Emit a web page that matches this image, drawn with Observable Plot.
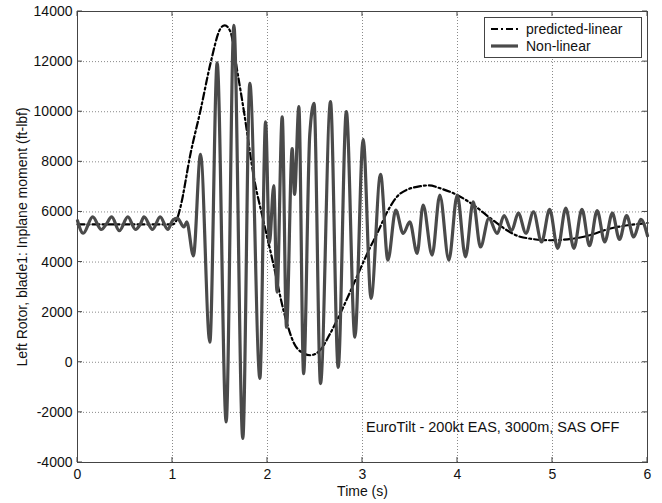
<!DOCTYPE html>
<html>
<head>
<meta charset="utf-8">
<script src="https://cdn.jsdelivr.net/npm/d3@7"></script>
<script src="https://cdn.jsdelivr.net/npm/@observablehq/plot@0.6"></script>
<style>
  html, body { margin: 0; padding: 0; background: #fff; }
  #chart { width: 662px; height: 503px; }
</style>
</head>
<body>
<div id="chart"></div>
<script>
// ---- data ----
const xTicks = [0, 1, 2, 3, 4, 5, 6];
const yTicks = [-4000, -2000, 0, 2000, 4000, 6000, 8000, 10000, 12000, 14000];

// Non-linear response: time (s) of each turning point and its value (ft-lbf)
const nonlinearT = [0, 0.06, 0.16, 0.25, 0.30, 0.36, 0.44, 0.53, 0.61, 0.66, 0.70, 0.79, 0.87, 0.95, 1.00,
  1.05, 1.12, 1.15, 1.22, 1.295, 1.393, 1.47, 1.565, 1.646, 1.74, 1.814, 1.92, 1.98, 2.02, 2.066, 2.10,
  2.155, 2.20, 2.26, 2.285, 2.33, 2.38, 2.445, 2.49, 2.558, 2.663, 2.744, 2.83, 2.92, 3.007, 3.09, 3.19,
  3.267, 3.35, 3.428, 3.498, 3.575, 3.638, 3.733, 3.814, 3.909, 3.997, 4.084, 4.165, 4.242, 4.33, 4.418,
  4.49, 4.57, 4.64, 4.72, 4.80, 4.885, 4.97, 5.055, 5.14, 5.225, 5.31, 5.39, 5.47, 5.55, 5.63, 5.705,
  5.78, 5.855, 5.93, 6.0];
const nonlinearV = [5650, 5150, 5800, 5300, 5500, 5800, 5250, 5800, 5300, 5500, 5800, 5300, 5800, 5300, 5650,
  5750, 5400, 5600, 4250, 8300, 800, 11950, -2380, 13450, -3040, 11130, -640, 9600, 4750, 7050, 2800,
  9800, 1400, 8530, 6700, 10200, -450, 9100, 10330, -850, 10400, -200, 10000, 1000, 8900, 2550, 7500,
  4080, 6070, 5140, 5600, 4350, 6270, 4280, 6670, 4080, 6670, 4210, 6400, 4600, 5740, 5140,
  5850, 5250, 5950, 5150, 6000, 4800, 6100, 4550, 6150, 4550, 6100, 4650, 6050, 4800, 5950, 4900,
  5850, 5000, 5700, 5050];

// Predicted-linear response
const predictedT = [0, 1.0, 1.05, 1.084, 1.19, 1.295, 1.40, 1.505, 1.55, 1.61, 1.68, 1.75, 1.856, 1.96,
  2.066, 2.17, 2.28, 2.385, 2.45, 2.555, 2.66, 2.766, 2.91, 3.05, 3.17, 3.26, 3.40, 3.61, 3.70, 3.82,
  4.0, 4.17, 4.35, 4.52, 4.66, 4.98, 5.33, 5.61, 6.0];
const predictedV = [5500, 5500, 5740, 6200, 8330, 10060, 11930, 13320, 13450, 13190, 11660, 10060, 7400, 5600,
  3850, 2050, 750, 350, 280, 490, 1150, 1950, 3150, 4340, 5270, 6000, 6740, 7030, 7060, 6940,
  6670, 6270, 5740, 5270, 5010, 4870, 5010, 5340, 5560];

const seriesNames = ["predicted-linear", "Non-linear"];
const xLabel = "Time (s)";
const yLabel = "Left Rotor, blade1: Inplane moment (ft-lbf)";
const noteText = "EuroTilt - 200kt EAS, 3000m, SAS OFF";
const noteAt = {t: 4.37, v: -2600};

// ---- build tables ----
const nonlinear = nonlinearT.map((t, i) => ({t, v: nonlinearV[i]}));
const predicted = predictedT.map((t, i) => ({t, v: predictedV[i]}));

const FONT = "'Liberation Sans', Arial, Helvetica, sans-serif";
const DASH = "7,3,2,3";
const NL_COLOR = "#4a4a4a";

const plot = Plot.plot({
  width: 662,
  height: 503,
  marginLeft: 77,
  marginRight: 15,
  marginTop: 11,
  marginBottom: 41,
  style: {fontFamily: FONT, fontSize: "14px", color: "#111", background: "#fff", overflow: "visible"},
  x: {domain: [0, 6], label: null},
  y: {domain: [-4000, 14000], label: null},
  marks: [
    Plot.gridX(xTicks, {stroke: "#8a8a8a", strokeOpacity: 1, strokeDasharray: "1,2"}),
    Plot.gridY(yTicks, {stroke: "#8a8a8a", strokeOpacity: 1, strokeDasharray: "1,2"}),
    Plot.axisX(xTicks, {tickSize: 0, tickPadding: 7, fontSize: 14, tickFormat: d => String(d), label: null}),
    Plot.axisY(yTicks, {tickSize: 0, tickPadding: 5, fontSize: 14, tickFormat: d => String(d), label: null}),
    Plot.line(predicted, {x: "t", y: "v", stroke: "#000", strokeWidth: 2.2, strokeDasharray: DASH, curve: "monotone-x"}),
    Plot.line(nonlinear, {x: "t", y: "v", stroke: NL_COLOR, strokeWidth: 3.2, curve: "monotone-x"}),
    Plot.frame({stroke: "#444", strokeWidth: 1}),
    Plot.text([noteText], {x: () => noteAt.t, y: () => noteAt.v, text: d => d, fontSize: 14.5, fill: "#111"}),
    Plot.text([xLabel], {frameAnchor: "bottom", dy: 33.5, text: d => d, fontSize: 14, fill: "#111", textAnchor: "middle"}),
    Plot.text([yLabel], {frameAnchor: "left", dx: -55, rotate: -90, text: d => d, fontSize: 14, fill: "#111", textAnchor: "middle"})
  ]
});

document.getElementById("chart").appendChild(plot);

// ---- inward ticks on all four sides (MATLAB style) ----
const sx = plot.scale("x"), sy = plot.scale("y");
const svg = d3.select(plot);
const L = 77, R = 662 - 15, T = 11, B = 503 - 41, TL = 5;
const tg = svg.append("g").attr("stroke", "#444").attr("stroke-width", 1);
xTicks.forEach(d => {
  const px = sx.apply(d);
  tg.append("line").attr("x1", px).attr("x2", px).attr("y1", B).attr("y2", B - TL);
  tg.append("line").attr("x1", px).attr("x2", px).attr("y1", T).attr("y2", T + TL);
});
yTicks.forEach(d => {
  const py = sy.apply(d);
  tg.append("line").attr("y1", py).attr("y2", py).attr("x1", L).attr("x2", L + TL);
  tg.append("line").attr("y1", py).attr("y2", py).attr("x1", R).attr("x2", R - TL);
});

// ---- legend box ----
const lg = svg.append("g").attr("font-family", FONT).attr("font-size", 14).attr("fill", "#111")
  .attr("text-anchor", "start");
lg.append("rect").attr("x", 484.5).attr("y", 17.5).attr("width", 157).attr("height", 40)
  .attr("fill", "#fff").attr("stroke", "#444").attr("stroke-width", 1);
const rows = [
  {name: seriesNames[0], y: 29, stroke: "#000", width: 2.2, dash: DASH},
  {name: seriesNames[1], y: 46, stroke: NL_COLOR, width: 3.2, dash: null}
];
rows.forEach(r => {
  const ln = lg.append("line").attr("x1", 491).attr("x2", 518).attr("y1", r.y).attr("y2", r.y)
    .attr("stroke", r.stroke).attr("stroke-width", r.width);
  if (r.dash) ln.attr("stroke-dasharray", r.dash);
  lg.append("text").attr("x", 526).attr("y", r.y).attr("dy", "0.35em")
    .style("text-anchor", "start").text(r.name);
});
</script>
</body>
</html>
